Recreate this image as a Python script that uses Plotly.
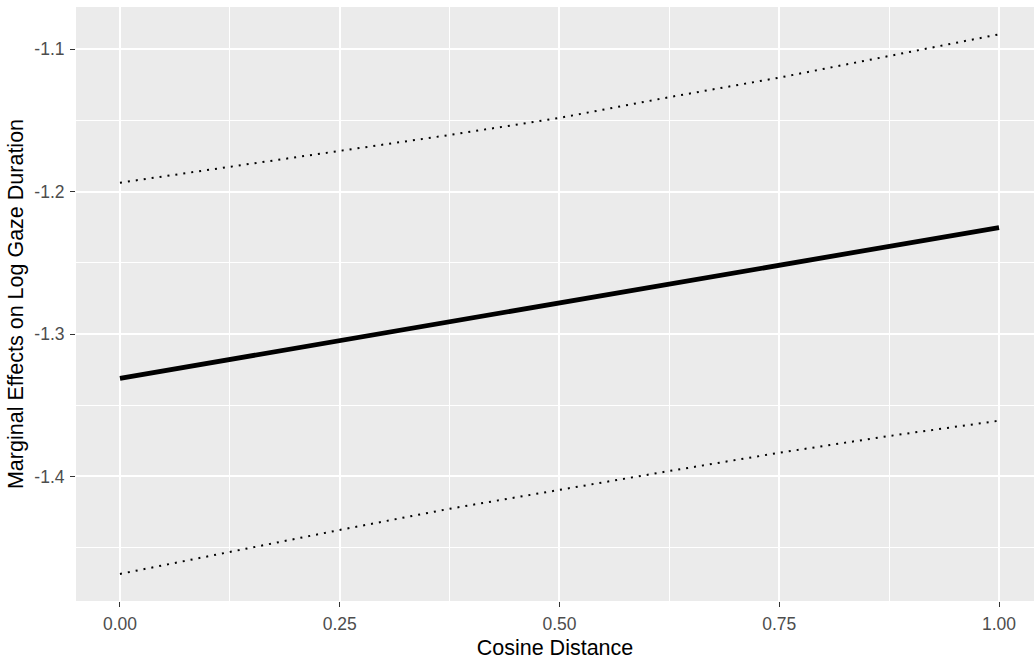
import plotly.graph_objects as go

# Data
band_x = [0.0, 0.125, 0.25, 0.375, 0.5, 0.625, 0.75, 0.875, 1.0]
upper_y = [-1.1937, -1.1825, -1.1714, -1.1602, -1.1482, -1.1336, -1.1199, -1.1047, -1.0895]
lower_y = [-1.4685, -1.4529, -1.4376, -1.4227, -1.4092, -1.3962, -1.3834, -1.3716, -1.3609]
main_x = [0.0, 0.5, 1.0]
main_y = [-1.3311, -1.2785, -1.2252]

x_tickvals = [0.0, 0.25, 0.5, 0.75, 1.0]
x_ticktext = ["0.00", "0.25", "0.50", "0.75", "1.00"]
y_tickvals = [-1.4, -1.3, -1.2, -1.1]
y_ticktext = ["-1.4", "-1.3", "-1.2", "-1.1"]

x_title = "Cosine Distance"
y_title = "Marginal Effects on Log Gaze Duration"

FONT = "Liberation Sans, Arial, sans-serif"

fig = go.Figure()
fig.add_trace(go.Scatter(x=band_x, y=upper_y, mode="lines",
                         line=dict(color="black", width=2, dash="2px,6px"),
                         showlegend=False, hoverinfo="skip"))
fig.add_trace(go.Scatter(x=band_x, y=lower_y, mode="lines",
                         line=dict(color="black", width=2, dash="2px,6px"),
                         showlegend=False, hoverinfo="skip"))
fig.add_trace(go.Scatter(x=main_x, y=main_y, mode="lines",
                         line=dict(color="black", width=4.8),
                         showlegend=False))

axis_common = dict(
    showline=False, zeroline=False,
    showgrid=True, gridcolor="white", gridwidth=1.5,
    ticks="outside", ticklen=5, tickwidth=1, tickcolor="#333333",
    tickfont=dict(family=FONT, size=17.5, color="#4D4D4D"),
    title_font=dict(family=FONT, size=21.5, color="black"),
)

fig.update_xaxes(
    **axis_common,
    range=[-0.05, 1.0398],
    tickmode="array", tickvals=x_tickvals, ticktext=x_ticktext,
    minor=dict(tick0=0.125, dtick=0.25, showgrid=True, gridcolor="white",
               gridwidth=0.75, ticks=""),
    title=dict(text=x_title, standoff=6),
    ticklabelstandoff=2,
)
fig.update_yaxes(
    **axis_common,
    range=[-1.4875, -1.0703],
    tickmode="array", tickvals=y_tickvals, ticktext=y_ticktext,
    minor=dict(tick0=-1.45, dtick=0.1, showgrid=True, gridcolor="white",
               gridwidth=0.75, ticks=""),
    title=dict(text=y_title, standoff=4),
    ticklabelstandoff=2,
)

fig.update_layout(
    width=1034, height=663,
    margin=dict(l=76, r=0, t=7, b=62, autoexpand=False),
    paper_bgcolor="white",
    plot_bgcolor="#EBEBEB",
    font=dict(family=FONT),
)

fig.write_html("out.html")
